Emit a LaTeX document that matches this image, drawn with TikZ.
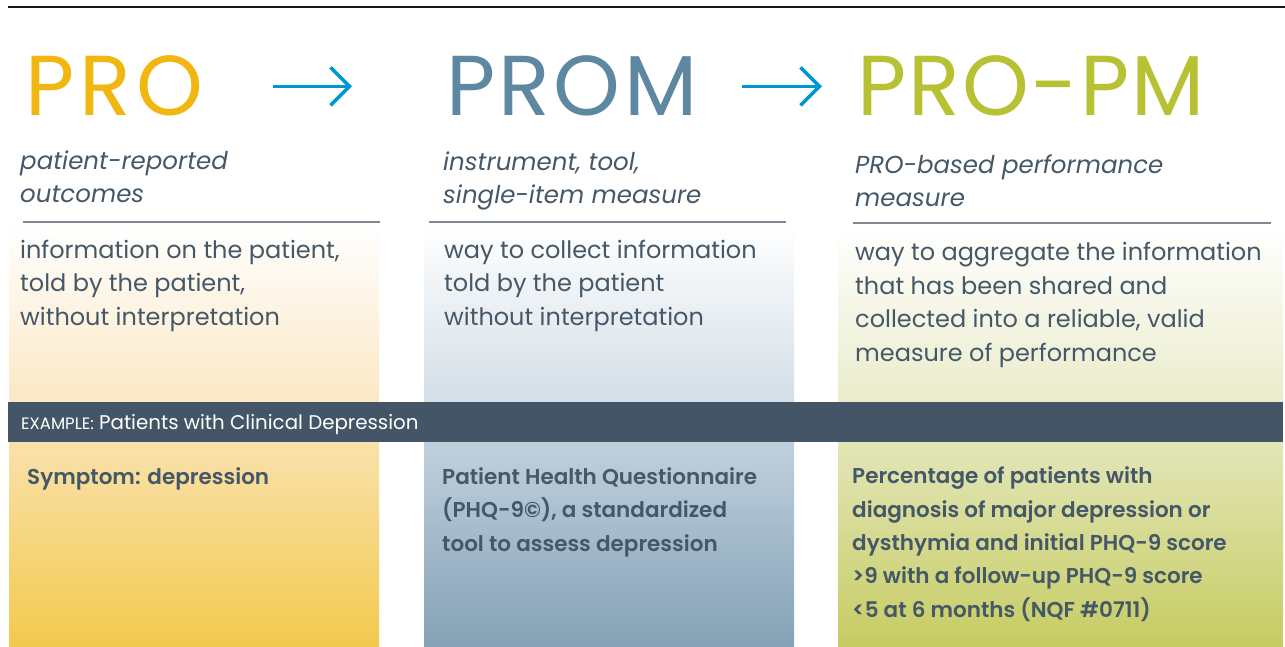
\documentclass[tikz,border=0pt]{standalone}
\usepackage{fontspec}
\setmainfont{Poppins}[BoldFont={Poppins SemiBold}]
\usepackage{xcolor}
\definecolor{proyellow}{HTML}{F2B610}
\definecolor{promblue}{HTML}{5E87A2}
\definecolor{propmgreen}{HTML}{B8C034}
\definecolor{arrowblue}{HTML}{0096D5}
\definecolor{slate}{HTML}{455868}
\definecolor{bandgray}{HTML}{435566}
\definecolor{rulegray}{HTML}{7D8893}
% column fills, upper half and lower half
\definecolor{yelMid}{HTML}{FBE8C4}
\definecolor{yelLow}{HTML}{F9E1AB}
\definecolor{yelBot}{HTML}{F3C94D}
\definecolor{bluMid}{HTML}{D3DEE7}
\definecolor{bluLow}{HTML}{C0D0DD}
\definecolor{bluBot}{HTML}{84A2B6}
\definecolor{grnMid}{HTML}{EAECCB}
\definecolor{grnLow}{HTML}{E3E6B8}
\definecolor{grnBot}{HTML}{C6CC62}
\usetikzlibrary{arrows.meta}
\usetikzlibrary{positioning}
% big titles, argument is the letter spacing
\tikzset{heading/.style={anchor=base west, inner sep=0pt,
    font=\fontsize{85}{85}\selectfont\addfontfeature{LetterSpace=#1}}, heading/.default=4}
\tikzstyle{subtitle} = [anchor=base west, inner sep=0pt, align=left, text=slate,
    font=\fontsize{24.5}{33}\selectfont\itshape]
\tikzstyle{body} = [anchor=base west, inner sep=0pt, align=left, text=slate,
    font=\fontsize{24}{33.5}\selectfont]
\tikzstyle{example} = [anchor=base west, inner sep=0pt, align=left, text=slate,
    font=\fontsize{21.5}{33.3}\selectfont\bfseries]
\tikzstyle{sep} = [draw=rulegray, line width=1.5pt]
\tikzstyle{line} = [draw=arrowblue, line width=3.5pt, -{Straight Barb[length=19pt,width=38pt]}]

\begin{document}
\begin{tikzpicture}[x=1pt,y=-1pt]
    \useasboundingbox (0,0) rectangle (1285,647);
    % Column backgrounds
    \shade[top color=white, bottom color=yelMid] (9,224) rectangle (379,402);
    \shade[top color=yelLow, bottom color=yelBot] (9,442) rectangle (379,647);
    \shade[top color=white, bottom color=bluMid] (424,224) rectangle (794,402);
    \shade[top color=bluLow, bottom color=bluBot] (424,442) rectangle (794,647);
    \shade[top color=white, bottom color=grnMid] (838,224) rectangle (1283,402);
    \shade[top color=grnLow, bottom color=grnBot] (838,442) rectangle (1283,647);
    \fill[bandgray] (8,402) rectangle (1283,442);
    \draw[line width=1.5pt, black!90] (8,7) -- (1285,7);

    % Place nodes (multi-line texts sit on their last baseline)
    \node[heading=6, text=proyellow] (pro) at (25,116) {PRO};
    \node[heading, text=promblue] (prom) at (446,116) {PROM};
    \node[heading=2.5, text=propmgreen] (propm) at (857,116) {PRO-PM};

    \node[subtitle] (sub1) at (20,203) {patient-reported\\outcomes};
    \node[subtitle] (sub2) at (443,204) {instrument, tool,\\single-item measure};
    \node[subtitle] (sub3) at (855,207) {PRO-based performance\\measure};

    \node[body] (def1) at (20,325) {information on the patient,\\told by the patient,\\without interpretation};
    \node[body] (def2) at (444,325) {way to collect information\\told by the patient\\without interpretation};
    \node[body] (def3) at (855,361) {way to aggregate the information\\that has been shared and\\collected into a reliable, valid\\measure of performance};

    \node[anchor=base west, inner sep=0pt, text=white, font=\fontsize{19.8}{19.8}\selectfont] (band) at (21,429)
        {{\fontsize{16.5}{16.5}\selectfont EXAMPLE:} Patients with Clinical Depression};

    \node[example] (ex1) at (27,484) {Symptom: depression};
    \node[example] (ex2) at (442,551) {Patient Health Questionnaire\\(PHQ-9\textcopyright), a standardized\\tool to assess depression};
    \node[example] (ex3) at (852,617) {Percentage of patients with\\diagnosis of major depression or\\dysthymia and initial PHQ-9 score\\>9 with a follow-up PHQ-9 score\\<5 at 6 months (NQF \#0711)};

    % Rules under the subtitles
    \draw[sep] (23,222) -- (380,222);
    \draw[sep] (429,222) -- (786,222);
    \draw[sep] (853,223) -- (1271,223);

    % Draw edges
    \path [line, shorten <=70pt, shorten >=94pt] (pro.east) -- (prom.west);
    \path [line, shorten <=45pt, shorten >=35pt] (prom.east) -- (propm.west);
\end{tikzpicture}
\end{document}
